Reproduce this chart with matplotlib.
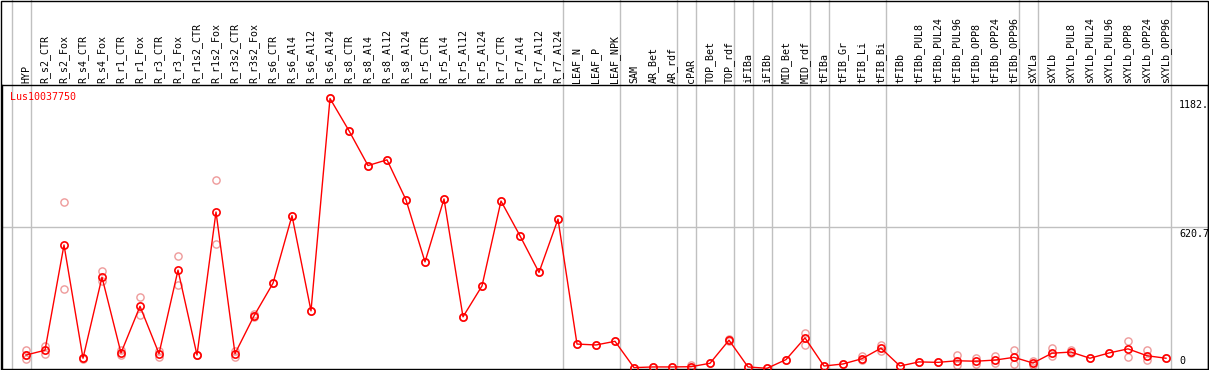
import matplotlib
matplotlib.use("Agg")
import matplotlib.pyplot as plt
from matplotlib.patches import Rectangle

samples = ["HYP", "R_s2_CTR", "R_s2_Fox", "R_s4_CTR", "R_s4_Fox", "R_r1_CTR", "R_r1_Fox",
           "R_r3_CTR", "R_r3_Fox", "R_r1s2_CTR", "R_r1s2_Fox", "R_r3s2_CTR", "R_r3s2_Fox",
           "R_s6_CTR", "R_s6_Al4", "R_s6_Al12", "R_s6_Al24", "R_s8_CTR", "R_s8_Al4",
           "R_s8_Al12", "R_s8_Al24", "R_r5_CTR", "R_r5_Al4", "R_r5_Al12", "R_r5_Al24",
           "R_r7_CTR", "R_r7_Al4", "R_r7_Al12", "R_r7_Al24", "LEAF_N", "LEAF_P", "LEAF_NPK",
           "SAM", "AR_Bet", "AR_rdf", "cPAR", "TOP_Bet", "TOP_rdf", "iFIBa", "iFIBb",
           "MID_Bet", "MID_rdf", "tFIBa", "tFIB_Gr", "tFIB_Li", "tFIB_Bi", "tFIBb",
           "tFIBb_PUL8", "tFIBb_PUL24", "tFIBb_PUL96", "tFIBb_OPP8", "tFIBb_OPP24",
           "tFIBb_OPP96", "sXYLa", "sXYLb", "sXYLb_PUL8", "sXYLb_PUL24", "sXYLb_PUL96",
           "sXYLb_OPP8", "sXYLb_OPP24", "sXYLb_OPP96"]

means = [61, 82, 542, 47, 401, 70, 274, 67, 432, 61, 686, 67, 232, 375, 670,
         254, 1182, 1041, 889, 914, 739, 468, 743, 228, 363, 734, 582, 422, 655,
         109, 105, 121,
         6, 9, 9, 10, 25, 126, 9, 3, 41, 136, 13, 22, 45, 91,
         13, 31, 29, 36, 34, 39, 51,
         26,
         69, 74, 47, 70, 88, 58, 47]

replicates = [[83, 60, 45], [99, 64], [731, 350], [47, 44], [430, 386], [81, 60], [316, 236],
              [80, 51], [495, 366], [61, 61], [824, 547], [77, 54], [242, 228], [375], [670],
              [254], [1182], [1041], [889], [914], [739], [468], [743], [228], [363],
              [734], [582], [422], [655], [109], [105], [121],
              [6], [9], [9], [19, 5], [25], [130, 122], [9], [3], [41], [158, 106], [13],
              [22], [55, 41], [106, 77],
              [13], [31], [29], [63, 16], [48, 23], [55, 26], [84, 23],
              [33, 19],
              [92, 55], [84, 70], [47], [70], [121, 53], [81, 41], [47]]

group_starts = [0, 1, 29, 32, 35, 36, 38, 39, 40, 42, 43, 46, 53, 54, 61]
gene = "Lus10037750"
y_labels = [1182, 620.7, 0]
y_label_text = ["1182.", "620.7", "0"]

W, H = 1209, 370
fig = plt.figure(figsize=(W / 100, H / 100), dpi=100)
left_px, right_px, top_px, bot_px = 1.5, 1208, 85, 369
ax = fig.add_axes([left_px / W, (H - bot_px) / H, (right_px - left_px) / W, (bot_px - top_px) / H])

x0_px, step_px = 26, 19
ax.set_xlim((left_px - x0_px) / step_px, (right_px - x0_px) / step_px)
ymax = 1182 * (bot_px - top_px) / 270.5
ax.set_ylim(0, ymax)
ax.set_xticks([])
ax.set_yticks([])
for s in ax.spines.values():
    s.set_color("black")
    s.set_linewidth(1.0)

grey = "#c0c0c0"
ax.axhline(620.7, color=grey, lw=1.0, zorder=1)
top_frac = 1 + top_px / (bot_px - top_px) + 0.01
for g in group_starts:
    ax.plot([g - 0.76, g - 0.76], [0, top_frac], color=grey, lw=1.0,
            transform=ax.get_xaxis_transform(), clip_on=False, zorder=1)

mono = "DejaVu Sans Mono"
for i, name in enumerate(samples):
    ax.text(i, 1.006, name, rotation=90, ha="center", va="bottom", fontsize=7.2,
            family=mono, transform=ax.get_xaxis_transform(), color="black")

rx, ry = [], []
for i, reps in enumerate(replicates):
    for v in reps:
        rx.append(i)
        ry.append(v)
ax.plot(rx, ry, ls="none", marker="o", ms=5.2, mfc="none", mec="#ee9a9a", mew=1.0, zorder=2)

xs = list(range(len(samples)))
ax.plot(xs, means, color="#ff0000", lw=1.0, zorder=3)
ax.plot(xs, means, ls="none", marker="o", ms=5.2, mfc="none", mec="#ff0000", mew=1.2, zorder=4)

gene_y = (bot_px - 97) / (bot_px - top_px) * ymax
ax.text((10 - x0_px) / step_px, gene_y, gene, color="#ff0000", fontsize=7.2,
        family=mono, ha="left", va="center")

lx = (1179 - x0_px) / step_px
for v, t in zip(y_labels, y_label_text):
    if v == 0:
        ax.text(lx, 12, t, fontsize=7.2, family=mono, ha="left", va="bottom")
    else:
        ax.text(lx, v - 8, t, fontsize=7.2, family=mono, ha="left", va="top")

fig.add_artist(Rectangle((0.5 / W, 0), (W - 1.5) / W, 1 - 0.5 / H, transform=fig.transFigure,
                         fill=False, edgecolor="black", lw=1.0))

fig.savefig("out.png", dpi=100)
